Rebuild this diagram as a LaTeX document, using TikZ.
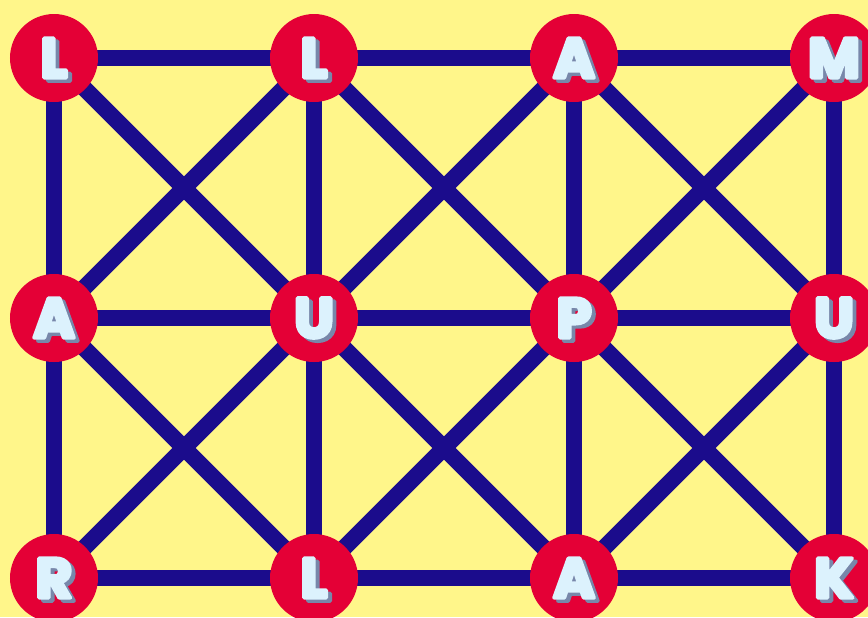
\documentclass[tikz,border=0pt]{standalone}
\usepackage{xcolor}
\usepackage{fontspec}
\usepackage{tikz}
\usetikzlibrary{positioning,backgrounds}
\newfontfamily\badgefont{Poppins}
\definecolor{PageYellow}{HTML}{FFF68A}
\definecolor{DiscRed}{HTML}{E40036}
\definecolor{LinkNavy}{HTML}{1B0C8C}
\definecolor{LetterFill}{HTML}{DCF2FD}
\definecolor{LetterShade}{HTML}{7887AA}
\newcommand{\roundglyph}[1]{\special{pdf:code 2 Tr 2.2 w 1 j 1 J}#1\special{pdf:code 0 Tr 0.4 w 0 j 0 J}}
\newcommand{\shadeletter}[1]{\rlap{\hspace{2.2pt}\smash{\raisebox{-1.8pt}{\color{LetterShade}\roundglyph{#1}}}}{\color{LetterFill}\roundglyph{#1}}}

\begin{document}
\begin{tikzpicture}[
  on grid, node distance=5.2cm and 5.2cm,
  disc/.style={circle, fill=DiscRed, minimum size=1.76cm, inner sep=0pt,
    font=\badgefont\bfseries\fontsize{32}{32}\selectfont},
  link/.style={draw=LinkNavy, line width=0.33cm}
]
  \useasboundingbox (-1.08,1.16) rectangle (16.28,-11.18);

  \node[disc] (a1) at (0,0) {\shadeletter{L}};
  \node[disc, right=of a1] (a2) {\shadeletter{L}};
  \node[disc, right=of a2] (a3) {\shadeletter{A}};
  \node[disc, right=of a3] (a4) {\shadeletter{M}};
  \node[disc, below=of a1] (b1) {\shadeletter{A}};
  \node[disc, right=of b1] (b2) {\shadeletter{U}};
  \node[disc, right=of b2] (b3) {\shadeletter{P}};
  \node[disc, right=of b3] (b4) {\shadeletter{U}};
  \node[disc, below=of b1] (c1) {\shadeletter{R}};
  \node[disc, right=of c1] (c2) {\shadeletter{L}};
  \node[disc, right=of c2] (c3) {\shadeletter{A}};
  \node[disc, right=of c3] (c4) {\shadeletter{K}};

  \begin{scope}[on background layer]
    \fill[PageYellow] (-1.08,1.16) rectangle (16.28,-11.18);
    \foreach \from/\to in {a1/a2, a2/a3, a3/a4, b1/b2, b2/b3, b3/b4, c1/c2, c2/c3, c3/c4,
        a1/b1, b1/c1, a2/b2, b2/c2, a3/b3, b3/c3, a4/b4, b4/c4,
        a1/b2, a2/b1, a2/b3, a3/b2, a3/b4, a4/b3,
        b1/c2, b2/c1, b2/c3, b3/c2, b3/c4, b4/c3}
      \draw[link] (\from.center) -- (\to.center);
  \end{scope}
\end{tikzpicture}
\end{document}
